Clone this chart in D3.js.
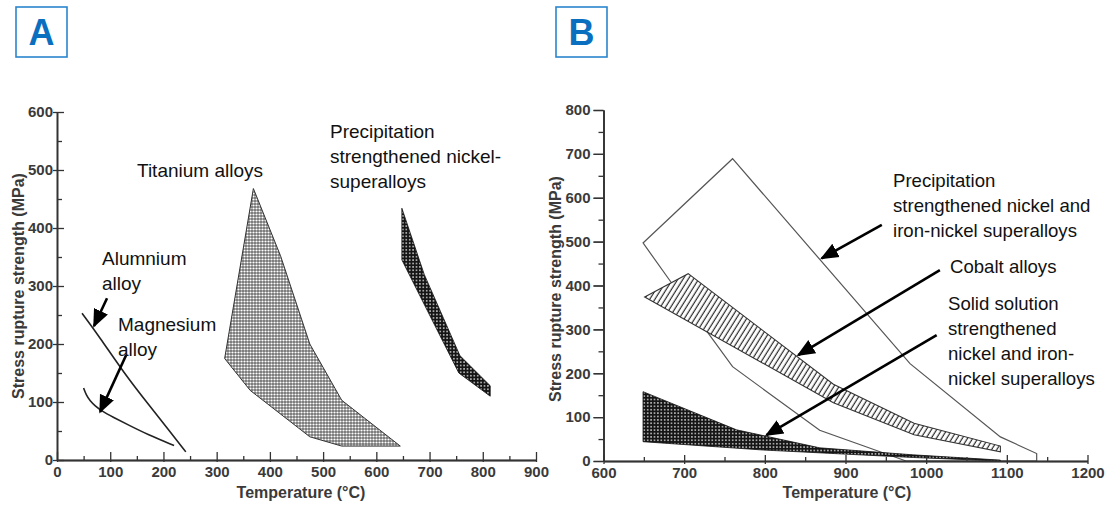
<!DOCTYPE html>
<html><head><meta charset="utf-8">
<script src="https://cdn.jsdelivr.net/npm/d3@7"></script>
<style>body{margin:0;background:#fff}svg{display:block}</style>
</head><body>
<svg id="c" width="1106" height="510"></svg>
<script>
// ---------- Panel A data ----------
const aMajorX = [0,100,200,300,400,500,600,700,800,900];
const aMinorX = [50,150,250,350,450,550,650,750,850];
const aMajorY = [0,100,200,300,400,500,600];
const aMinorY = [50,150,250,350,450,550];
const aluminiumT = [47,80,125,175,210,242];
const aluminiumS = [253,212,151,92,52,14];
const magnesiumT = [50,55,62,72,85,105,135,170,220];
const magnesiumS = [124,112,102,93,84,74,60,44,25];
const titaniumT = [315,369,420,475,535,645,535,475,363];
const titaniumS = [175,468,352,200,103,24,24,40,120];
const nickelAT = [648,690,757,814,814,755,700,648];
const nickelAS = [434,320,180,128,110,150,250,345];
const aArrowTail = [[94,279],[130,181]];
const aArrowHead = [[69.5,231],[81,83]];

// ---------- Panel B data ----------
const bMajorX = [600,700,800,900,1000,1100,1200];
const bMinorX = [650,750,850,950,1050,1150];
const bMajorY = [0,100,200,300,400,500,600,700,800];
const bMinorY = [50,150,250,350,450,550,650,750];
const precipT = [649,760,980,1092,1137,1137,975,868,760,730,682];
const precipS = [497,689,222,55,17,0,0,70,215,291,412];
const cobaltT = [651,705,885,985,1092,1092,985,885];
const cobaltS = [374,427,175,86,34,21,60,133];
const solidT = [649,765,868,984,1092,1092,984,798,649];
const solidS = [158,71,30,14,2,0,8,25,44];
const bArrowTail = [[945,538],[1017,435],[1013,287]];
const bArrowHead = [[870.5,462],[841.4,241.5],[802,59]];

// ---------- labels ----------
const panelLetters = ["A","B"];
const yTitle = "Stress rupture strength (MPa)";
const xTitle = "Temperature (°C)";
const aLabels = [
  {lines:["Alumnium","alloy"], x:102, y:265},
  {lines:["Magnesium","alloy"], x:118, y:331},
  {lines:["Titanium alloys"], x:137, y:177},
  {lines:["Precipitation","strengthened nickel-","superalloys"], x:330, y:138}
];
const bLabels = [
  {lines:["Precipitation","strengthened nickel and","iron-nickel superalloys"], x:893, y:187},
  {lines:["Cobalt alloys"], x:950, y:273},
  {lines:["Solid solution","strengthened","nickel and iron-","nickel superalloys"], x:948, y:310}
];

const svg = d3.select("#c");
const defs = svg.append("defs");
const LABEL_FONT = "'Liberation Sans', Arial, sans-serif";

// patterns
const pLight = defs.append("pattern").attr("id","dotsLight").attr("patternUnits","userSpaceOnUse").attr("width",3).attr("height",3);
pLight.append("rect").attr("width",3).attr("height",3).attr("fill","#707070");
pLight.append("circle").attr("cx",1.5).attr("cy",1.5).attr("r",1.1).attr("fill","#fff");
const pDark = defs.append("pattern").attr("id","dotsDark").attr("patternUnits","userSpaceOnUse").attr("width",3.4).attr("height",3.4);
pDark.append("rect").attr("width",3.4).attr("height",3.4).attr("fill","#151515");
pDark.append("circle").attr("cx",1.7).attr("cy",1.7).attr("r",0.85).attr("fill","#d8d8d8");
const pHatch = defs.append("pattern").attr("id","hatch").attr("patternUnits","userSpaceOnUse").attr("width",4.4).attr("height",10).attr("patternTransform","rotate(32)");
pHatch.append("rect").attr("width",4.4).attr("height",10).attr("fill","#fff");
pHatch.append("line").attr("x1",1.2).attr("x2",1.2).attr("y1",0).attr("y2",10).attr("stroke","#2a2a2a").attr("stroke-width",1.2);
defs.append("marker").attr("id","arr").attr("viewBox","0 0 10 10").attr("refX",9).attr("refY",5)
  .attr("markerWidth",7).attr("markerHeight",7).attr("orient","auto").attr("markerUnits","strokeWidth")
  .append("path").attr("d","M0,0.8 L10,5 L0,9.2 Z").attr("fill","#000");

// panel letters
const letterBoxes = [{x:16,y:7},{x:556,y:7}];
panelLetters.forEach((L,i)=>{
  const b = letterBoxes[i];
  svg.append("rect").attr("x",b.x).attr("y",b.y).attr("width",51).attr("height",50)
    .attr("fill","#fff").attr("stroke","#2b85cc").attr("stroke-width",1.6);
  svg.append("text").attr("x",b.x+25.5).attr("y",b.y+38).attr("text-anchor","middle")
    .attr("font-family","'Liberation Sans', Arial, sans-serif").attr("font-weight","bold")
    .attr("font-size",36).attr("fill","#0b6fc0").text(L);
});

function polyPoints(xs, ys, x, y){ return xs.map((t,i)=>[x(t), y(ys[i])]); }

function drawAxes(g, x, y, cfg){
  const axColor = "#333";
  const fontTick = {family:"'Liberation Sans', Arial, sans-serif", size:15, weight:"bold", fill:"#3a3a3a"};
  const fmt = d3.format("d");
  const ya = g.append("g").attr("transform",`translate(${x.range()[0]},0)`)
    .call(d3.axisLeft(y).tickValues(cfg.majorY).tickFormat(fmt).tickSize(cfg.yMajIn).tickSizeOuter(0).tickPadding(cfg.yPad));
  const yo = g.append("g").attr("transform",`translate(${x.range()[0]},0)`)
    .call(d3.axisLeft(y).tickValues(cfg.majorY).tickSize(cfg.yMajOut).tickSizeOuter(0).tickFormat(""));
  const ym = g.append("g").attr("transform",`translate(${x.range()[0]},0)`)
    .call(d3.axisLeft(y).tickValues(cfg.minorY).tickSize(cfg.yMin).tickSizeOuter(0).tickFormat(""));
  const xa = g.append("g").attr("transform",`translate(0,${y.range()[0]})`)
    .call(d3.axisBottom(x).tickValues(cfg.majorX).tickFormat(fmt).tickSize(cfg.xMajIn).tickSizeOuter(0).tickPadding(cfg.xPad));
  const xo = g.append("g").attr("transform",`translate(0,${y.range()[0]})`)
    .call(d3.axisBottom(x).tickValues(cfg.majorX).tickSize(cfg.xMajOut).tickSizeOuter(0).tickFormat(""));
  const xm = g.append("g").attr("transform",`translate(0,${y.range()[0]})`)
    .call(d3.axisBottom(x).tickValues(cfg.minorX).tickSize(cfg.xMin).tickSizeOuter(0).tickFormat(""));
  [ya,yo,ym,xa,xo,xm].forEach(a=>{
    a.selectAll("path.domain").attr("stroke",axColor).attr("stroke-width",1.4);
    a.selectAll(".tick line").attr("stroke",axColor).attr("stroke-width",1.3);
    a.selectAll("text").attr("font-family",fontTick.family).attr("font-size",fontTick.size)
      .attr("font-weight",fontTick.weight).attr("fill",fontTick.fill);
  });
  g.append("text").attr("transform",`translate(${cfg.yTitleX},${cfg.yTitleY}) rotate(-90)`)
    .attr("text-anchor","middle").attr("dominant-baseline","central")
    .attr("font-family",fontTick.family).attr("font-weight","bold").attr("font-size",16)
    .attr("fill","#3a3a3a").text(yTitle);
  g.append("text").attr("x",cfg.xTitleX).attr("y",cfg.xTitleY).attr("text-anchor","middle")
    .attr("font-family",fontTick.family).attr("font-weight","bold").attr("font-size",16)
    .attr("fill","#3a3a3a").text(xTitle);
}

function drawLabels(g, labels, size){
  labels.forEach(l=>{
    const t = g.append("text").attr("font-family",LABEL_FONT).attr("font-size",size).attr("fill","#111");
    l.lines.forEach((s,i)=> t.append("tspan").attr("x",l.x).attr("y",l.y + i*25).text(s));
  });
}
function drawArrows(g, tails, heads, x, y){
  tails.forEach((t,i)=>{
    g.append("line").attr("x1",x(t[0])).attr("y1",y(t[1])).attr("x2",x(heads[i][0])).attr("y2",y(heads[i][1]))
      .attr("stroke","#000").attr("stroke-width",2.6).attr("marker-end","url(#arr)");
  });
}

// ---------- Panel A ----------
const xA = d3.scaleLinear().domain([0,900]).range([57,536]);
const yA = d3.scaleLinear().domain([0,600]).range([460,112]);
const gA = svg.append("g");
const closed = d3.line().curve(d3.curveLinearClosed);
gA.append("path").attr("d", closed(polyPoints(titaniumT,titaniumS,xA,yA)))
  .attr("fill","url(#dotsLight)").attr("stroke","#333").attr("stroke-width",1);
gA.append("path").attr("d", closed(polyPoints(nickelAT,nickelAS,xA,yA)))
  .attr("fill","url(#dotsDark)").attr("stroke","#111").attr("stroke-width",0.8);
const smooth = d3.line().curve(d3.curveBasis);
gA.append("path").attr("d", smooth(polyPoints(aluminiumT,aluminiumS,xA,yA)))
  .attr("fill","none").attr("stroke","#222").attr("stroke-width",1.6);
gA.append("path").attr("d", smooth(polyPoints(magnesiumT,magnesiumS,xA,yA)))
  .attr("fill","none").attr("stroke","#222").attr("stroke-width",1.6);
drawAxes(gA, xA, yA, {majorX:aMajorX, minorX:aMinorX, majorY:aMajorY, minorY:aMinorY,
  yMajIn:-7, yMajOut:4, yMin:-5, yPad:4, xMajIn:-8, xMajOut:2, xMin:-4, xPad:6,
  yTitleX:18, yTitleY:286, xTitleX:301, xTitleY:498});
drawArrows(gA, aArrowTail, aArrowHead, xA, yA);
drawLabels(gA, aLabels, 19);

// ---------- Panel B ----------
const xB = d3.scaleLinear().domain([600,1200]).range([603.5,1087.5]);
const yB = d3.scaleLinear().domain([0,800]).range([461,110]);
const gB = svg.append("g");
gB.append("path").attr("d", closed(polyPoints(precipT,precipS,xB,yB)))
  .attr("fill","none").attr("stroke","#555").attr("stroke-width",1.2);
gB.append("path").attr("d", closed(polyPoints(cobaltT,cobaltS,xB,yB)))
  .attr("fill","url(#hatch)").attr("stroke","#333").attr("stroke-width",1.1);
gB.append("path").attr("d", closed(polyPoints(solidT,solidS,xB,yB)))
  .attr("fill","url(#dotsDark)").attr("stroke","#111").attr("stroke-width",0.8);
drawAxes(gB, xB, yB, {majorX:bMajorX, minorX:bMinorX, majorY:bMajorY, minorY:bMinorY,
  yMajIn:10, yMajOut:10, yMin:5, yPad:3, xMajIn:-6, xMajOut:3, xMin:-4, xPad:6,
  yTitleX:555, yTitleY:289, xTitleX:847, xTitleY:498});
drawArrows(gB, bArrowTail, bArrowHead, xB, yB);
drawLabels(gB, bLabels, 18.6);
</script>
</body></html>
